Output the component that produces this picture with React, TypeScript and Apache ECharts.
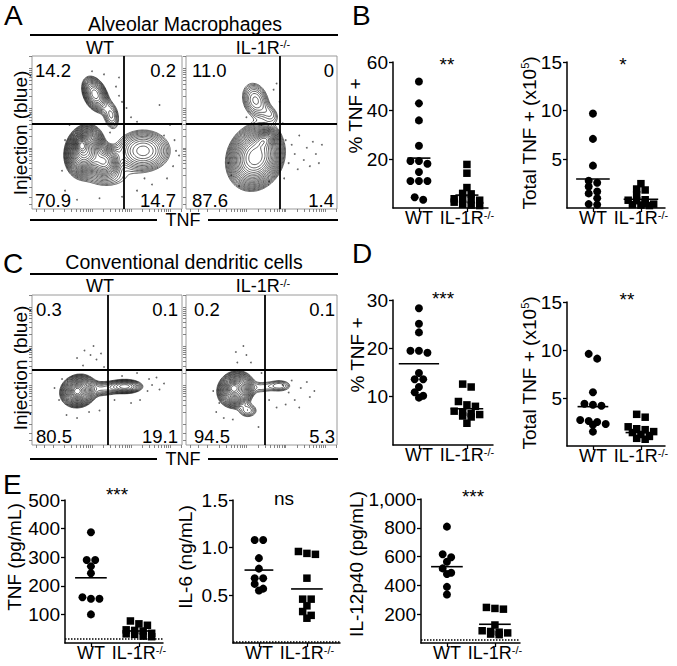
import React, { useEffect, useRef } from 'react';
import * as echarts from 'echarts';

const FONT = '"Liberation Sans", Arial, Helvetica, sans-serif';

// ---------- data ----------
const groups = ['WT', 'IL-1R'];
const groupSup = ['', '-/-'];

// B: alveolar macrophages
const amPctWT = [52, 43, 36, 25.6, 19.3, 19.3, 18.2, 14.8, 11.1, 11.1, 11.1, 4.4, 3.4];
const amPctKO = [17.9, 14.3, 8.4, 6.0, 5.8, 3.8, 3.6, 3.4, 3.2, 2.4, 1.5, 1.2, 1.0];
const amPctMean = [20.5, 5.3];
const amTotWT = [9.7, 7.1, 4.35, 2.8, 2.6, 2.2, 1.7, 1.5, 1.0, 0.4, 0.35];
const amTotKO = [2.5, 1.95, 1.85, 1.35, 0.85, 0.8, 0.75, 0.45, 0.4, 0.35, 0.3, 0.25];
const amTotMean = [2.98, 0.9];
// D: conventional dendritic cells
const dcPctWT = [28.3, 25.1, 23.3, 19.5, 19.5, 19.1, 14.9, 13.6, 13.6, 12.0, 10.9, 10.2, 9.8];
const dcPctKO = [12.6, 12.0, 9.0, 8.3, 8.0, 7.0, 6.8, 6.5, 6.3, 6.0, 5.8, 4.5];
const dcPctMean = [16.8, 7.5];
const dcTotWT = [9.6, 9.1, 5.6, 4.4, 4.3, 4.2, 2.7, 2.6, 2.5, 2.3, 2.2, 1.5];
const dcTotKO = [3.3, 3.0, 2.0, 1.8, 1.7, 1.5, 1.4, 1.2, 1.0, 0.8, 0.7];
const dcTotMean = [4.1, 1.4];
// E: cytokines
const tnfWT = [387, 290, 290, 268, 244, 160, 155, 155, 100];
const tnfKO = [77, 67, 62, 46, 44, 42, 34, 32, 30, 24, 22];
const tnfMean = [228, 42];
const tnfLod = 16;
const il6WT = [1.08, 1.08, 0.89, 0.78, 0.68, 0.68, 0.62, 0.57, 0.55];
const il6KO = [0.96, 0.94, 0.93, 0.68, 0.46, 0.46, 0.39, 0.33, 0.29, 0.26];
const il6Mean = [0.765, 0.567];
const il6Lod = 0.012;
const il12WT = [808, 616, 595, 564, 518, 488, 479, 390, 337];
const il12KO = [247, 240, 235, 125, 85, 80, 75, 70, 62, 58];
const il12Mean = [530, 130];
const il12Lod = 20;

// tick labels
const pctTicksAM = [20, 40, 60];
const totTicks = [5, 10, 15];
const pctTicksDC = [10, 20, 30];
const tnfTicks = [100, 200, 300, 400, 500];
const il6Ticks = [0.5, 1.0, 1.5];
const il12Ticks = [200, 400, 600, 800, 1000];

// significance
const sigLabels = ['**', '*', '***', '**', '***', 'ns', '***'];

// flow quadrant percentages (UL, UR, LL, LR)
const amQuadWT = ['14.2', '0.2', '70.9', '14.7'];
const amQuadKO = ['11.0', '0', '87.6', '1.4'];
const dcQuadWT = ['0.3', '0.1', '80.5', '19.1'];
const dcQuadKO = ['0.2', '0.1', '94.5', '5.3'];
// gates (TNF, Injection) in display units 0-100
const amGateWT = [60.9, 55.6];
const amGateKO = [62.3, 55.6];
const dcGateWT = [50.2, 50.5];
const dcGateKO = [52.3, 50.5];
// populations: [TNF, Injection, sdTNF, sdInj, weight, corr]
const amPopWT = [
  [42, 75, 4.5, 6, 0.3, -0.35],
  [53, 61, 3.5, 6, 0.1, -0.2],
  [35, 38, 5.5, 7, 1.0, 0.15],
  [33, 42, 2.2, 2.8, 0.9, 0],
  [48, 31, 5, 5, 0.4, 0],
  [74, 38, 10, 7.5, 0.22, 0],
  [50, 20, 12, 5, 0.06, 0],
];
const amPopKO = [
  [46, 71, 5, 6.5, 0.13, -0.2],
  [56, 62, 4, 4, 0.05, -0.3],
  [46, 34, 7.5, 8.5, 1.0, 0.15],
  [52, 45, 3.5, 3, 0.45, 0.3],
];
const dcPopWT = [
  [31, 36, 5, 4.5, 1.0, 0.1],
  [30, 36, 2.2, 2.2, 0.7, 0],
  [62, 39, 6, 2.4, 0.3, 0],
  [47, 37.5, 6, 3, 0.12, 0],
];
const dcPopKO = [
  [33, 37, 5, 5, 1.0, 0.1],
  [31.5, 38, 2.2, 2.2, 0.7, 0],
  [62, 39.5, 5, 2.5, 0.1, 0],
  [50, 38.5, 5, 3, 0.06, 0],
  [41, 23, 4, 3, 0.1, 0],
];
// sparse events outside contours
const amEvWT = [[56, 80], [58, 74], [60, 70], [63, 66], [66, 60], [70, 57], [58, 86], [48, 88], [85, 68], [92, 55], [95, 45], [96, 38], [94, 28], [90, 20], [80, 16], [70, 12], [60, 8], [45, 7], [30, 6], [22, 12], [20, 25], [22, 45], [25, 55], [52, 50], [88, 48], [98, 35], [75, 20], [40, 90]];
const amEvKO = [[62, 50], [66, 45], [70, 42], [72, 36], [75, 48], [78, 32], [80, 40], [82, 28], [68, 30], [74, 26], [84, 44], [86, 36], [64, 56], [58, 78], [60, 82], [62, 70], [30, 22], [28, 30], [35, 15], [55, 18], [65, 20], [88, 30], [90, 42], [50, 55], [40, 60]];
const dcEvWT = [[35, 63], [39, 60], [43, 57], [46, 61], [34, 53], [30, 58], [41, 66], [48, 52], [77, 36], [80, 40], [83, 45], [78, 44], [85, 37], [72, 30], [66, 28], [23, 20], [30, 18], [38, 22], [45, 23], [18, 30], [15, 38], [20, 44], [55, 30], [60, 46], [88, 41], [70, 48]];
const dcEvKO = [[33, 62], [40, 60], [34, 55], [43, 55], [30, 50], [38, 66], [64, 40], [68, 35], [72, 30], [76, 38], [80, 42], [82, 32], [70, 43], [66, 27], [75, 25], [60, 25], [20, 22], [25, 18], [31, 17], [22, 28], [18, 36], [50, 48], [55, 30], [85, 36], [48, 12]];
const facsDecades = [14, 40, 66, 92];

// ---------- layout ----------
const facsLayout = [
  { left: 32, top: 56, width: 150, height: 153, inL: 3, inR: 6, levels: 26, low: 0.025 },
  { left: 186, top: 56, width: 151, height: 153, inL: 6, inR: 3, levels: 20, low: 0.03 },
  { left: 32, top: 295, width: 150, height: 150, inL: 4, inR: 4, levels: 20, low: 0.025 },
  { left: 186, top: 295, width: 151, height: 150, inL: 8, inR: 2, levels: 20, low: 0.025 },
];
const dotLayout = [
  { left: 393, top: 62, width: 95, height: 146, hw: [0.24, 0.24], name: [355.5, 116], sig: [447, 64] },
  { left: 567, top: 62, width: 98, height: 146, hw: [0.35, 0.36], name: [529, 133], sig: [623, 64] },
  { left: 393, top: 300, width: 100, height: 145, hw: [0.42, 0.34], name: [357, 355], sig: [443, 298] },
  { left: 567, top: 302, width: 98, height: 144, hw: [0.32, 0.32], name: [529, 373], sig: [627, 299] },
  { left: 65, top: 500, width: 98, height: 143, hw: [0.33, 0.33], name: [14, 557], sig: [117, 494] },
  { left: 233, top: 500, width: 107, height: 143, hw: [0.3, 0.33], name: [185, 557], sig: [284, 498] },
  { left: 421, top: 499, width: 99, height: 144, hw: [0.33, 0.33], name: [356, 564], sig: [473, 496] },
];
const PX_PER_GROUP = 48;
const X_MIN = -0.54;

const SUP = { fontSize: 11, fontFamily: FONT, fill: '#000', color: '#000', verticalAlign: 'top' };

const dotPlots = [
  { wt: amPctWT, ko: amPctKO, mean: amPctMean, ticks: pctTicksAM, name: '% TNF +', lod: null, fmt: (v: number) => String(v) },
  { wt: amTotWT, ko: amTotKO, mean: amTotMean, ticks: totTicks, name: 'Total TNF + (x10{s|5})', lod: null, fmt: (v: number) => String(v) },
  { wt: dcPctWT, ko: dcPctKO, mean: dcPctMean, ticks: pctTicksDC, name: '% TNF +', lod: null, fmt: (v: number) => String(v) },
  { wt: dcTotWT, ko: dcTotKO, mean: dcTotMean, ticks: totTicks, name: 'Total TNF + (x10{s|5})', lod: null, fmt: (v: number) => String(v) },
  { wt: tnfWT, ko: tnfKO, mean: tnfMean, ticks: tnfTicks, name: 'TNF (pg/mL)', lod: tnfLod, fmt: (v: number) => String(v) },
  { wt: il6WT, ko: il6KO, mean: il6Mean, ticks: il6Ticks, name: 'IL-6 (ng/mL)', lod: il6Lod, fmt: (v: number) => v.toFixed(1) },
  { wt: il12WT, ko: il12KO, mean: il12Mean, ticks: il12Ticks, name: 'IL-12p40 (pg/mL)', lod: il12Lod, fmt: (v: number) => v.toLocaleString('en-US') },
];

const facsPanels = [
  { pop: amPopWT, ev: amEvWT, gate: amGateWT, quad: amQuadWT },
  { pop: amPopKO, ev: amEvKO, gate: amGateKO, quad: amQuadKO },
  { pop: dcPopWT, ev: dcEvWT, gate: dcGateWT, quad: dcQuadWT },
  { pop: dcPopKO, ev: dcEvKO, gate: dcGateKO, quad: dcQuadKO },
];

// ---------- helpers ----------
function rowJitter(values: number[], group: number, pxPerUnit: number) {
  const spacing = 8.5 / PX_PER_GROUP;
  const order = values.map((_, i) => i).sort((a, b) => values[b] - values[a]);
  const out: number[][] = [];
  let row: number[] = [];
  const flush = () => {
    row.forEach((i, k) => out.push([group + (k - (row.length - 1) / 2) * spacing, values[i]]));
    row = [];
  };
  for (const i of order) {
    if (row.length && ((values[row[0]] - values[i]) * pxPerUnit > 5 || row.length >= 4)) flush();
    row.push(i);
  }
  flush();
  return out;
}

const SEGS: number[][] = [[], [3, 0], [0, 1], [3, 1], [1, 2], [3, 0, 1, 2], [0, 2], [3, 2], [2, 3], [0, 2], [0, 1, 2, 3], [1, 2], [3, 1], [0, 1], [3, 0], []];

function contourRenderer(comps: number[][], nLevels: number, lowFrac: number) {
  return (_params: any, api: any) => {
    const N = 121;
    const X: number[] = [];
    const Y: number[] = [];
    for (let i = 0; i < N; i++) {
      const v = (i * 100) / (N - 1);
      X.push(api.coord([v, 0])[0]);
      Y.push(api.coord([0, v])[1]);
    }
    const F = new Float64Array(N * N);
    let peak = 0;
    for (let j = 0; j < N; j++) {
      const y = (j * 100) / (N - 1);
      for (let i = 0; i < N; i++) {
        const x = (i * 100) / (N - 1);
        let s = 0;
        for (const c of comps) {
          const dx = (x - c[0]) / c[2];
          const dy = (y - c[1]) / c[3];
          const rho = c[5] || 0;
          s += c[4] * Math.exp((-0.5 * (dx * dx + dy * dy - 2 * rho * dx * dy)) / (1 - rho * rho));
        }
        F[j * N + i] = s;
        if (s > peak) peak = s;
      }
    }
    const ratio = Math.pow(lowFrac, 1 / nLevels);
    const parts: string[] = [];
    for (let k = 1; k <= nLevels; k++) {
      const L = peak * Math.pow(ratio, k);
      for (let j = 0; j < N - 1; j++) {
        for (let i = 0; i < N - 1; i++) {
          const a = F[j * N + i], b = F[j * N + i + 1], c = F[(j + 1) * N + i + 1], d = F[(j + 1) * N + i];
          const idx = (a > L ? 1 : 0) | (b > L ? 2 : 0) | (c > L ? 4 : 0) | (d > L ? 8 : 0);
          if (idx === 0 || idx === 15) continue;
          const pt = (e: number) => {
            if (e === 0) { const t = (L - a) / (b - a); return [X[i] + t * (X[i + 1] - X[i]), Y[j]]; }
            if (e === 1) { const t = (L - b) / (c - b); return [X[i + 1], Y[j] + t * (Y[j + 1] - Y[j])]; }
            if (e === 2) { const t = (L - d) / (c - d); return [X[i] + t * (X[i + 1] - X[i]), Y[j + 1]]; }
            const t = (L - a) / (d - a); return [X[i], Y[j] + t * (Y[j + 1] - Y[j])];
          };
          const sg = SEGS[idx];
          for (let s = 0; s < sg.length; s += 2) {
            const p = pt(sg[s]);
            const q = pt(sg[s + 1]);
            parts.push('M' + p[0].toFixed(1) + ' ' + p[1].toFixed(1) + 'L' + q[0].toFixed(1) + ' ' + q[1].toFixed(1));
          }
        }
      }
    }
    return {
      type: 'path',
      silent: true,
      shape: { pathData: parts.join('') },
      style: { fill: 'none', stroke: '#111', lineWidth: 0.65 },
    };
  };
}

function facsTicks() {
  const t: number[] = [3, 8];
  facsDecades.forEach((d) => {
    for (let k = 1; k <= 9; k++) {
      const v = d + 26 * Math.log10(k);
      if (v <= 100) t.push(+v.toFixed(2));
    }
  });
  return t;
}

const text = (x: number, y: number, str: string, size: number, opt: any = {}) => ({
  type: 'text',
  x,
  y,
  rotation: opt.rot || 0,
  silent: true,
  style: {
    text: str,
    fontSize: size,
    fontFamily: FONT,
    fill: '#000',
    align: opt.align || 'center',
    verticalAlign: 'middle',
    rich: { s: SUP },
  },
});
const hline = (x1: number, x2: number, y: number, w = 2) => ({
  type: 'line',
  silent: true,
  shape: { x1, y1: y, x2, y2: y },
  style: { stroke: '#000', lineWidth: w },
});

function buildOption() {
  const grid: any[] = [];
  const xAxis: any[] = [];
  const yAxis: any[] = [];
  const series: any[] = [];
  const graphic: any[] = [];
  const ticks = facsTicks();

  facsPanels.forEach((p, i) => {
    const L = facsLayout[i];
    grid.push({ left: L.left, top: L.top, width: L.width, height: L.height, show: true, borderColor: '#9a9a9a', borderWidth: 1, backgroundColor: 'transparent' });
    const axisCommon = {
      type: 'value', min: 0, max: 100, gridIndex: i,
      axisLine: { show: false, onZero: false },
      axisTick: { show: true, inside: false, length: 3, customValues: ticks, lineStyle: { color: '#666', width: 0.8 } },
      axisLabel: { show: false },
      splitLine: { show: false },
    };
    xAxis.push({ ...axisCommon });
    yAxis.push({ ...axisCommon });
    series.push({
      type: 'custom', coordinateSystem: 'cartesian2d', xAxisIndex: i, yAxisIndex: i, silent: true,
      data: [[50, 50]],
      renderItem: contourRenderer(p.pop, L.levels, L.low),
      z: 2,
    });
    series.push({
      type: 'scatter', xAxisIndex: i, yAxisIndex: i, silent: true,
      data: p.ev, symbolSize: 1.8, itemStyle: { color: '#666', opacity: 1 }, z: 1,
      markLine: {
        silent: true, symbol: ['none', 'none'], label: { show: false },
        lineStyle: { color: '#000', width: 1.8, type: 'solid' },
        data: [{ xAxis: p.gate[0] }, { yAxis: p.gate[1] }],
      },
    });
    const right = L.left + L.width - L.inR;
    const left = L.left + L.inL;
    const topY = L.top + 14.5;
    const botY = L.top + L.height - 8.5;
    graphic.push(text(left, topY, p.quad[0], 18.5, { align: 'left' }));
    graphic.push(text(right, topY, p.quad[1], 18.5, { align: 'right' }));
    graphic.push(text(left, botY, p.quad[2], 18.5, { align: 'left' }));
    graphic.push(text(right, botY, p.quad[3], 18.5, { align: 'right' }));
  });

  dotPlots.forEach((d, k) => {
    const L = dotLayout[k];
    const gi = 4 + k;
    const ymax = d.ticks[d.ticks.length - 1];
    const pxPerUnit = L.height / ymax;
    grid.push({ left: L.left, top: L.top, width: L.width, height: L.height });
    xAxis.push({
      type: 'value', gridIndex: gi, min: X_MIN, max: X_MIN + L.width / PX_PER_GROUP,
      axisLine: { show: true, onZero: false, lineStyle: { color: '#000', width: 1.5 } },
      axisTick: { show: true, customValues: [0, 1], length: 4, lineStyle: { color: '#000', width: 1.3 } },
      axisLabel: {
        customValues: [0, 1], margin: 1, fontSize: 18, fontFamily: FONT, color: '#000',
        formatter: (v: number) => (groupSup[Math.round(v)] ? groups[Math.round(v)] + '{s|' + groupSup[Math.round(v)] + '}' : groups[Math.round(v)]),
        rich: { s: { fontSize: 11, fontFamily: FONT, color: '#000', verticalAlign: 'top' } },
      },
      splitLine: { show: false },
    });
    yAxis.push({
      type: 'value', gridIndex: gi, min: 0, max: ymax,
      axisLine: { show: true, onZero: false, lineStyle: { color: '#000', width: 1.5 } },
      axisTick: { show: true, customValues: d.ticks, length: 4, lineStyle: { color: '#000', width: 1.3 } },
      axisLabel: { customValues: d.ticks, margin: 5, fontSize: 19, fontFamily: FONT, color: '#000', formatter: d.fmt },
      splitLine: { show: false },
    });
    series.push({
      type: 'scatter', xAxisIndex: gi, yAxisIndex: gi, silent: true,
      data: rowJitter(d.wt, 0, pxPerUnit), symbol: 'circle', symbolSize: 8, itemStyle: { color: '#000', opacity: 1 },
    });
    const ko: any = {
      type: 'scatter', xAxisIndex: gi, yAxisIndex: gi, silent: true,
      data: rowJitter(d.ko, 1, pxPerUnit), symbol: 'rect', symbolSize: 7.5, itemStyle: { color: '#000', opacity: 1 },
    };
    if (d.lod != null) {
      ko.markLine = {
        silent: true, symbol: ['none', 'none'], label: { show: false },
        lineStyle: { color: '#000', width: 1.5, type: [1.5, 1.5] },
        data: [{ yAxis: d.lod }],
      };
    }
    series.push(ko);
    series.push({
      type: 'custom', coordinateSystem: 'cartesian2d', xAxisIndex: gi, yAxisIndex: gi, silent: true,
      data: d.mean.map((m, g) => [g, m]),
      renderItem: (params: any, api: any) => {
        const g = api.value(0);
        const m = api.value(1);
        const hw = L.hw[params.dataIndex];
        const a = api.coord([g - hw, m]);
        const b = api.coord([g + hw, m]);
        return { type: 'line', shape: { x1: a[0], y1: a[1], x2: b[0], y2: b[1] }, style: { stroke: '#000', lineWidth: 1.6 } };
      },
      z: 3,
    });
    graphic.push(text(L.name[0], L.name[1], d.name, 19, { rot: Math.PI / 2 }));
    graphic.push(text(L.sig[0], L.sig[1], sigLabels[k], 19));
  });

  // panel letters
  graphic.push(text(4, 15, 'A', 28, { align: 'left' }));
  graphic.push(text(352, 15, 'B', 28, { align: 'left' }));
  graphic.push(text(3, 263, 'C', 28, { align: 'left' }));
  graphic.push(text(352, 253, 'D', 28, { align: 'left' }));
  graphic.push(text(3, 484, 'E', 28, { align: 'left' }));

  // flow headers
  graphic.push(text(185, 23.5, 'Alveolar Macrophages', 19.5));
  graphic.push(hline(30, 338, 35));
  graphic.push(text(100, 47.5, groups[0], 18));
  graphic.push(text(263, 47.5, groups[1] + '{s|' + groupSup[1] + '}', 18));
  graphic.push(text(184, 262, 'Conventional dendritic cells', 19.5));
  graphic.push(hline(30, 338, 274));
  graphic.push(text(100, 286, groups[0], 18));
  graphic.push(text(263, 286, groups[1] + '{s|' + groupSup[1] + '}', 18));
  graphic.push(text(20, 133, 'Injection (blue)', 19, { rot: Math.PI / 2 }));
  graphic.push(text(20, 368, 'Injection (blue)', 19, { rot: Math.PI / 2 }));
  graphic.push(text(183, 220, 'TNF', 18));
  graphic.push(hline(30, 157, 220));
  graphic.push(hline(208, 338, 220));
  graphic.push(text(183, 459, 'TNF', 18));
  graphic.push(hline(30, 157, 459));
  graphic.push(hline(208, 338, 459));

  return {
    animation: false,
    backgroundColor: '#fff',
    grid,
    xAxis,
    yAxis,
    series,
    graphic: { elements: graphic },
  };
}

export default function App() {
  const ref = useRef<HTMLDivElement>(null);
  useEffect(() => {
    const chart = echarts.init(ref.current as HTMLDivElement, undefined, { renderer: 'svg' });
    chart.setOption(buildOption() as any);
    return () => chart.dispose();
  }, []);
  return (
    <div
      ref={ref}
      style={{ position: 'absolute', left: 0, top: 0, width: 677, height: 666, background: '#fff' }}
    />
  );
}
